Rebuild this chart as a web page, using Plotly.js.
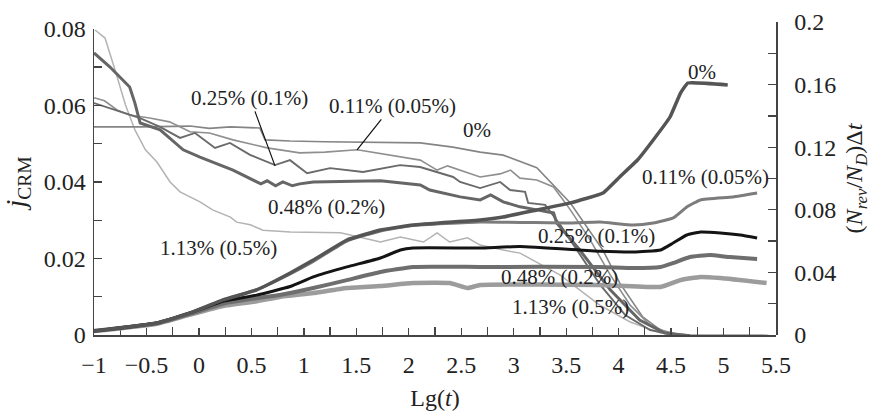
<!DOCTYPE html>
<html>
<head>
<meta charset="utf-8">
<script src="https://cdn.plot.ly/plotly-3.0.1.min.js"></script>
<style>html,body{margin:0;padding:0;background:#fff;}#chart{width:871px;height:411px;}</style>
</head>
<body>
<div id="chart"></div>
<script>
// ---- j_CRM (left axis, decreasing curves) ----
const jX_0   = [-1, -0.55, -0.085, 0.1, 0.3, 0.58, 0.63, 0.87, 1.2, 1.51, 1.8, 2.11, 2.42, 2.68, 2.9, 3.22, 3.54, 3.85, 4.01, 4.23, 4.4, 4.59];
const jY_0   = [0.0544, 0.0544, 0.0546, 0.0540, 0.0544, 0.0541, 0.0510, 0.0507, 0.0505, 0.0504, 0.0503, 0.0502, 0.0491, 0.0478, 0.0470, 0.0437, 0.0345, 0.0222, 0.0136, 0.0047, 0.0013, 0];

const jX_011 = [-1, -0.9, -0.78, -0.66, -0.47, -0.28, -0.085, 0.1, 0.325, 0.65, 0.96, 1.2, 1.51, 1.92, 2.11, 2.27, 2.37, 2.68, 2.87, 2.97, 3.06, 3.22, 3.38, 3.54, 3.73, 3.92, 4.11, 4.3, 4.49, 4.68];
const jY_011 = [0.0620, 0.0612, 0.0588, 0.0575, 0.0567, 0.0557, 0.0531, 0.0528, 0.0510, 0.0489, 0.0476, 0.0478, 0.0484, 0.0465, 0.0457, 0.0431, 0.0442, 0.0413, 0.0421, 0.0431, 0.0410, 0.0405, 0.0387, 0.0327, 0.0248, 0.0157, 0.0078, 0.0026, 0.0003, 0];

const jX_025 = [-1, -0.847, -0.704, -0.561, -0.371, -0.180, -0.037, 0.153, 0.296, 0.487, 0.725, 0.868, 1.031, 1.250, 1.564, 1.917, 2.108, 2.423, 2.489, 2.680, 2.871, 2.966, 3.109, 3.138, 3.300, 3.443, 3.634, 3.825, 4.063, 4.300, 4.539];
const jY_025 = [0.0606, 0.0593, 0.0580, 0.0567, 0.0544, 0.0515, 0.0528, 0.0489, 0.0502, 0.0471, 0.0444, 0.0457, 0.0423, 0.0436, 0.0426, 0.0444, 0.0439, 0.0413, 0.0400, 0.0384, 0.0400, 0.0379, 0.0374, 0.0345, 0.0340, 0.0288, 0.0209, 0.0131, 0.0052, 0.0013, 0];

const jX_048 = [-1, -0.85, -0.66, -0.61, -0.56, -0.37, -0.15, 0.01, 0.325, 0.52, 0.59, 0.65, 0.73, 0.80, 0.89, 0.96, 1.09, 1.73, 2.11, 2.20, 2.49, 2.68, 2.78, 2.90, 3.06, 3.22, 3.38, 3.41, 3.63, 3.92, 4.20, 4.44, 4.68, 5.43];
const jY_048 = [0.0737, 0.0701, 0.0648, 0.0606, 0.0554, 0.0536, 0.0484, 0.0465, 0.0431, 0.0405, 0.0395, 0.0403, 0.0390, 0.0400, 0.0390, 0.0395, 0.0400, 0.0403, 0.0392, 0.0379, 0.0361, 0.0353, 0.0366, 0.0348, 0.0335, 0.0327, 0.0319, 0.0293, 0.0222, 0.0118, 0.0039, 0.0005, -0.0002, -0.0003];

const jX_113 = [-0.99, -0.895, -0.80, -0.70, -0.61, -0.51, -0.40, -0.275, -0.18, -0.085, 0.01, 0.13, 0.30, 0.36, 0.49, 0.61, 0.87, 1.35, 1.54, 1.73, 1.92, 2.14, 2.27, 2.39, 2.56, 2.68, 2.90, 3.06, 3.44, 3.82, 4.11, 4.40, 4.68];
const jY_113 = [0.0797, 0.0776, 0.0693, 0.0601, 0.0536, 0.0484, 0.0452, 0.0400, 0.0374, 0.0361, 0.0348, 0.0327, 0.0308, 0.0295, 0.0288, 0.0274, 0.0269, 0.0267, 0.0254, 0.0243, 0.0256, 0.0243, 0.0267, 0.0243, 0.0254, 0.0235, 0.0222, 0.0214, 0.0157, 0.0078, 0.0034, 0.0005, 0];

// ---- (N_rev/N_D)Δt (right axis, increasing curves) ----
const rX_0   = [-1, -0.40, -0.085, 0.23, 0.55, 0.87, 1.09, 1.41, 1.73, 2.04, 2.68, 2.90, 3.22, 3.54, 3.85, 4.01, 4.18, 4.33, 4.49, 4.59, 4.66, 5.04];
const rY_0   = [0.0025, 0.0077, 0.0141, 0.0224, 0.0288, 0.0396, 0.0479, 0.0607, 0.0671, 0.0703, 0.0735, 0.0754, 0.0799, 0.0844, 0.0907, 0.1010, 0.1118, 0.1246, 0.1393, 0.1546, 0.1610, 0.1598];

const rX_011 = [-1, -0.40, -0.085, 0.23, 0.55, 0.87, 1.09, 1.41, 1.73, 2.04, 2.68, 3.54, 3.82, 4.14, 4.33, 4.52, 4.65, 4.78, 5.09, 5.32];
const rY_011 = [0.0025, 0.0077, 0.0141, 0.0224, 0.0290, 0.0390, 0.0470, 0.0600, 0.0665, 0.0700, 0.0722, 0.0716, 0.0722, 0.0703, 0.0716, 0.0748, 0.0818, 0.0863, 0.0882, 0.0907];

const rX_025 = [-1, -0.40, -0.085, 0.23, 0.55, 0.87, 1.09, 1.41, 1.73, 1.92, 2.04, 2.68, 3.06, 3.82, 4.14, 4.40, 4.52, 4.65, 4.78, 4.97, 5.16, 5.32];
const rY_025 = [0.0025, 0.0077, 0.0141, 0.0215, 0.0255, 0.0310, 0.0371, 0.0435, 0.0492, 0.0543, 0.0556, 0.0556, 0.0565, 0.0535, 0.0530, 0.0543, 0.0588, 0.0639, 0.0658, 0.0652, 0.0639, 0.0620];

const rX_048 = [-1, -0.40, -0.085, 0.23, 0.55, 0.77, 1.09, 1.41, 1.73, 2.04, 2.68, 3.82, 4.14, 4.40, 4.52, 4.68, 4.87, 5.06, 5.32];
const rY_048 = [0.0025, 0.0075, 0.0135, 0.0200, 0.0235, 0.0256, 0.0300, 0.0351, 0.0403, 0.0435, 0.0435, 0.0435, 0.0428, 0.0435, 0.0460, 0.0498, 0.0511, 0.0498, 0.0486];

const rX_113 = [-1, -0.40, -0.085, 0.23, 0.55, 0.77, 1.09, 1.41, 1.73, 2.04, 2.39, 2.56, 2.68, 3.82, 4.40, 4.59, 4.78, 4.97, 5.41];
const rY_113 = [0.0025, 0.0072, 0.0130, 0.0185, 0.0215, 0.0243, 0.0268, 0.0300, 0.0313, 0.0332, 0.0332, 0.0300, 0.0320, 0.0320, 0.0307, 0.0351, 0.0371, 0.0364, 0.0332];

const seriesLabels = ['0%', '0.11% (0.05%)', '0.25% (0.1%)', '0.48% (0.2%)', '1.13% (0.5%)'];

const FONT = 'Liberation Serif';

function tr(x, y, axis, color, width, smooth) {
  const line = {color: color, width: width};
  if (smooth) { line.shape = 'spline'; line.smoothing = smooth; }
  return {x: x, y: y, xaxis: 'x', yaxis: axis, type: 'scatter', mode: 'lines',
          line: line, hoverinfo: 'skip', showlegend: false};
}

const data = [
  tr(jX_113, jY_113, 'y', '#b3b3b3', 1.5),
  tr(jX_0,   jY_0,   'y', '#858585', 1.6),
  tr(jX_011, jY_011, 'y', '#8f8f8f', 1.6),
  tr(jX_025, jY_025, 'y', '#6a6a6a', 1.9),
  tr(jX_048, jY_048, 'y', '#666666', 3),
  tr(rX_113, rY_113, 'y2', '#9c9c9c', 4.5, 0.4),
  tr(rX_048, rY_048, 'y2', '#6e6e6e', 4, 0.4),
  tr(rX_011, rY_011, 'y2', '#7c7c7c', 3, 0.4),
  tr(rX_025, rY_025, 'y2', '#141414', 3, 0.4),
  tr(rX_0,   rY_0,   'y2', '#555555', 3.5, 0.3)
];

const annFont = {family: FONT, size: 21, color: '#222'};
function ann(text, x, y, yref, opts) {
  return Object.assign({text: text, x: x, y: y, xref: 'x', yref: yref, showarrow: false, font: annFont}, opts || {});
}
// annotation y values for left axis expressed in j units
const annotations = [
  ann(seriesLabels[2], 0.725, 0.0442, 'y', {showarrow: true, arrowhead: 0, arrowwidth: 1.2, arrowcolor: '#111', ax: -25, ay: -68, standoff: 0}),
  ann(seriesLabels[1], 1.507, 0.0484, 'y', {showarrow: true, arrowhead: 0, arrowwidth: 1.2, arrowcolor: '#111', ax: 35, ay: -44, standoff: 0}),
  ann(seriesLabels[0], 2.651, 0.0536, 'y'),
  ann(seriesLabels[3], 1.212, 0.0335, 'y'),
  ann(seriesLabels[4], 0.182, 0.0227, 'y'),
  ann(seriesLabels[0], 4.796, 0.168, 'y2'),
  ann(seriesLabels[1], 4.825, 0.101, 'y2'),
  ann(seriesLabels[2], 3.786, 0.0633, 'y2'),
  ann(seriesLabels[3], 3.433, 0.0371, 'y2'),
  ann(seriesLabels[4], 3.538, 0.0179, 'y2')
];

const tickFont = {family: FONT, size: 24, color: '#222'};
const tk = {ticks: 'inside', ticklen: 8, tickwidth: 1.3, tickcolor: '#444'};
const layout = {
  width: 871, height: 411,
  margin: {l: 94, r: 95, t: 22, b: 76},
  paper_bgcolor: '#fff', plot_bgcolor: 'rgba(0,0,0,0)',
  showlegend: false,
  xaxis: Object.assign({
    anchor: 'y', range: [-1, 5.5], dtick: 0.5, tick0: -1,
    minor: Object.assign({dtick: 0.25}, tk),
    showline: true, linecolor: '#444', linewidth: 1.5, showgrid: false, zeroline: false,
    tickfont: tickFont, ticklabelstandoff: 8,
    title: {text: 'Lg(<i>t</i>)', font: {family: FONT, size: 24, color: '#222'}, standoff: 12}
  }, tk, {ticklen: 7}),
  yaxis: Object.assign({
    domain: [0, 0.978], anchor: 'x',
    range: [0, 0.08], tick0: 0, dtick: 0.02,
    minor: Object.assign({dtick: 0.01}, tk),
    showline: true, linecolor: '#444', linewidth: 1.5, showgrid: false, zeroline: false,
    tickfont: tickFont, ticklabelstandoff: 2,
    title: {text: '<i>j</i><sub>CRM</sub>', font: {family: FONT, size: 28, color: '#222'}, standoff: 10}
  }, tk),
  yaxis2: Object.assign({
    domain: [0, 1], anchor: 'x', side: 'right',
    range: [0, 0.2], tick0: 0, dtick: 0.04,
    minor: Object.assign({dtick: 0.02}, tk),
    showline: true, linecolor: '#444', linewidth: 1.5, showgrid: false, zeroline: false,
    tickfont: tickFont, ticklabelstandoff: 12,
    title: {text: '(<i>N<sub>rev</sub></i>/<i>N<sub>D</sub></i>)Δ<i>t</i>', font: {family: FONT, size: 24, color: '#222'}, standoff: 14}
  }, tk),
  annotations: annotations
};

Plotly.newPlot('chart', data, layout, {displayModeBar: false, staticPlot: true});
</script>
</body>
</html>
